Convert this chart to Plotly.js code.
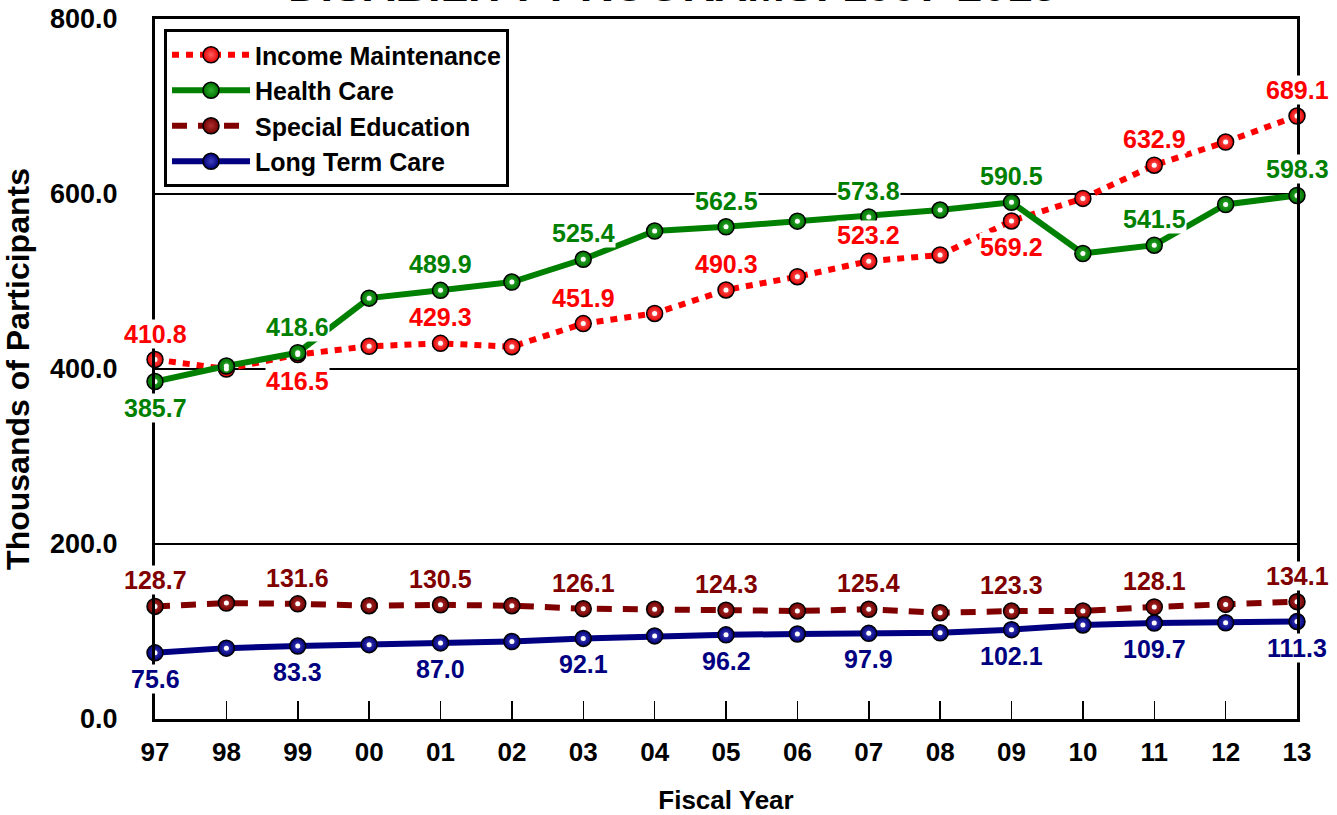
<!DOCTYPE html>
<html>
<head>
<meta charset="utf-8">
<script src="https://cdn.plot.ly/plotly-3.0.1.min.js"></script>
<style>
html,body{margin:0;padding:0;background:#fff;}
#chart{width:1337px;height:815px;}
</style>
</head>
<body>
<div id="chart"></div>
<script>
var years = ["97","98","99","00","01","02","03","04","05","06","07","08","09","10","11","12","13"];
var incomeMaintenance = [410.8,400.0,416.5,426.0,429.3,425.5,451.9,463.5,490.3,505.5,523.2,530.3,569.2,595.0,632.9,659.4,689.1];
var healthCare = [385.7,403.4,418.6,481.0,489.9,499.4,525.4,557.7,562.5,569.0,573.8,581.7,590.5,532.0,541.5,588.0,598.3];
var specialEducation = [128.7,132.5,131.6,129.5,130.5,129.5,126.1,125.5,124.3,123.5,125.4,121.5,123.3,123.5,128.1,131.0,134.1];
var longTermCare = [75.6,81.0,83.3,85.0,87.0,88.5,92.1,95.0,96.2,97.2,97.9,98.5,102.1,107.5,109.7,110.0,111.3];
var yTicks = [0,200,400,600,800];

var FONT = 'Liberation Sans, Arial, sans-serif';
var xIdx = years.map(function (_, i) { return i; });

function series(name, vals, color, light, dash) {
  return {
    type: 'scatter', mode: 'lines+markers', name: name,
    x: xIdx, y: vals,
    line: {color: color, width: 6, dash: dash},
    marker: {size: 16, color: color, line: {color: '#000', width: 1.5},
             gradient: {type: 'radial', color: light}},
    cliponaxis: false
  };
}
function glint(vals) {
  return {
    type: 'scatter', mode: 'markers', x: xIdx, y: vals, showlegend: false,
    hoverinfo: 'skip', cliponaxis: false,
    marker: {size: 5, color: '#ffffff', line: {width: 0}}
  };
}

var traces = [
  series('Income Maintenance', incomeMaintenance, '#e80000', '#ff6060', '7px,7px'),
  series('Health Care', healthCare, '#007000', '#30b030', 'solid'),
  series('Special Education', specialEducation, '#700000', '#b03030', '15px,11px'),
  series('Long Term Care', longTermCare, '#000078', '#4040c0', 'solid'),
  glint(incomeMaintenance), glint(healthCare), glint(specialEducation), glint(longTermCare)
];
traces[0].line.color = '#ff0000';
traces[1].line.color = '#008000';
traces[2].line.color = '#800000';
traces[3].line.color = '#000080';

// label placement: +1 above, -1 below
var incomePos = {0:1,2:-1,4:1,6:1,8:1,10:1,12:-1,14:1,16:1};
var healthPos = {0:-1,2:1,4:1,6:1,8:1,10:1,12:1,14:1,16:1};
var specialPos = {0:1,2:1,4:1,6:1,8:1,10:1,12:1,14:1,16:1};
var ltcPos = {0:-1,2:-1,4:-1,6:-1,8:-1,10:-1,12:-1,14:-1,16:-1};

var annotations = [];
function addLabels(vals, pos, color) {
  for (var i = 0; i < vals.length; i++) {
    if (pos[i] === undefined) continue;
    annotations.push({
      x: i, y: vals[i], xref: 'x', yref: 'y',
      text: vals[i].toFixed(1), showarrow: false,
      yanchor: 'middle', xanchor: 'center', yshift: pos[i] * 26,
      bgcolor: '#ffffff', borderpad: 0,
      font: {family: FONT, size: 25, color: color, weight: 'bold'}
    });
  }
}
addLabels(incomeMaintenance, incomePos, '#ff0000');
addLabels(healthCare, healthPos, '#008000');
addLabels(specialEducation, specialPos, '#800000');
addLabels(longTermCare, ltcPos, '#000080');

annotations.push({
  text: '<b>DISABILITY PROGRAMS: 1997-2013</b>', showarrow: false,
  xref: 'paper', yref: 'paper', x: 0.453, y: 1, xanchor: 'center', yanchor: 'bottom',
  yshift: 6, font: {family: FONT, size: 45, color: '#000'}
});

var layout = {
  width: 1337, height: 815,
  margin: {l: 155, r: 40, t: 19, b: 96},
  paper_bgcolor: '#ffffff', plot_bgcolor: '#ffffff',
  font: {family: FONT, color: '#000', weight: 'bold'},
  xaxis: {
    range: [0, 16], tickmode: 'array', tickvals: xIdx, ticktext: years,
    showline: true, linecolor: '#000', linewidth: 3, mirror: true,
    ticks: 'inside', ticklen: 18, tickwidth: 1.5, tickcolor: '#000',
    ticklabelstandoff: 8,
    showgrid: false, zeroline: false,
    tickfont: {family: FONT, size: 26, color: '#000', weight: 'bold'},
    title: {text: '<b>Fiscal Year</b>', font: {family: FONT, size: 26, color: '#000'}, standoff: 27}
  },
  yaxis: {
    range: [0, 800], tickvals: yTicks, tickformat: '.1f',
    showline: true, linecolor: '#000', linewidth: 3, mirror: true,
    showgrid: true, gridcolor: '#000', gridwidth: 2, zeroline: false,
    ticks: '', ticklabelstandoff: 29,
    tickfont: {family: FONT, size: 27, color: '#000', weight: 'bold'},
    title: {text: '<b>Thousands of Participants</b>', font: {family: FONT, size: 32, color: '#000'}, standoff: 12}
  },
  legend: {
    x: 0.0079, y: 0.9857, xanchor: 'left', yanchor: 'top',
    bgcolor: '#ffffff', bordercolor: '#000', borderwidth: 3,
    font: {family: FONT, size: 25, color: '#000', weight: 'bold'},
    tracegroupgap: 0, itemwidth: 78
  },
  annotations: annotations,
  showlegend: true
};

Plotly.newPlot('chart', traces, layout, {displayModeBar: false, staticPlot: true});
</script>
</body>
</html>
